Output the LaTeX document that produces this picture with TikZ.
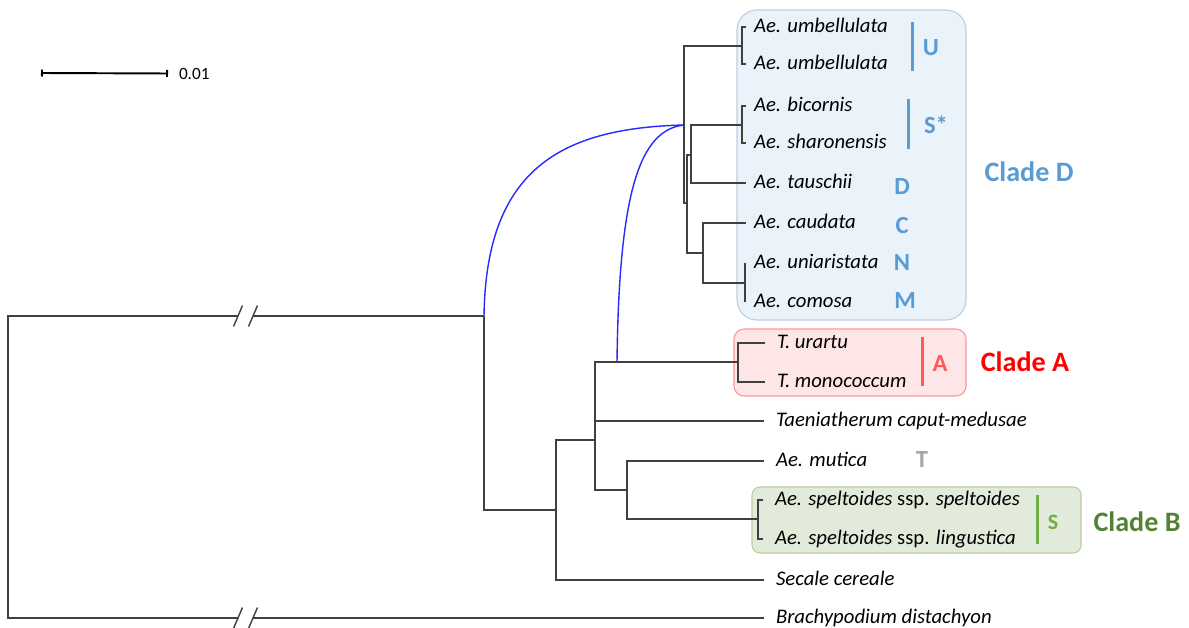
\documentclass[tikz,border=0pt]{standalone}
\usepackage{fontspec}
\setmainfont{Carlito}
\usepackage{tikz}
\usetikzlibrary{arrows.meta}
\usepackage{xcolor}
\definecolor{treegray}{RGB}{64,64,64}
\definecolor{linkblue}{RGB}{40,40,255}
\definecolor{cladeDblue}{RGB}{91,155,213}
\definecolor{cladeDfill}{RGB}{234,242,250}
\definecolor{cladeDline}{RGB}{188,206,228}
\definecolor{cladeAred}{RGB}{255,0,0}
\definecolor{cladeAbar}{RGB}{255,90,90}
\definecolor{cladeAfill}{RGB}{255,230,230}
\definecolor{cladeAline}{RGB}{255,150,150}
\definecolor{cladeBgreen}{RGB}{84,130,53}
\definecolor{cladeBbar}{RGB}{112,173,71}
\definecolor{cladeBfill}{RGB}{226,235,218}
\definecolor{cladeBline}{RGB}{182,205,160}
\definecolor{tgray}{RGB}{166,166,166}

\begin{document}
\begin{tikzpicture}[x=0.02cm,y=-0.02cm,
  br/.style={draw=treegray,line width=0.8pt},
  link/.style={draw=linkblue,line width=0.8pt},
  taxon/.style={anchor=west,inner ysep=0pt,inner xsep=0.24cm,outer sep=0pt,
    font=\fontsize{11.8}{14}\selectfont\itshape,text height=8.3pt,text depth=2.2pt},
  gen/.style={font=\fontsize{14}{17}\selectfont\bfseries,inner sep=0pt},
  clade/.style={font=\fontsize{16}{19}\selectfont\bfseries,inner sep=0pt},
  bar/.style={line width=1.7pt},
  cbox/.style={line width=0.6pt}
]
\useasboundingbox (0,0) rectangle (1189,628);

\path[cbox,draw=cladeDline,fill=cladeDfill,rounded corners=0.4cm] (737,10) rectangle (966,320);
\path[cbox,draw=cladeAline,fill=cladeAfill,rounded corners=0.2cm] (734,329) rectangle (966,396);
\path[cbox,draw=cladeBline,fill=cladeBfill,rounded corners=0.16cm] (752,487) rectangle (1081,553);

\node[taxon,inner xsep=0.16cm] (uu1) at (746,27) {Ae. umbellulata};
\node[taxon,inner xsep=0.16cm] (uu2) at (746,64) {Ae. umbellulata};
\node[taxon,inner xsep=0.16cm] (bic) at (746,106) {Ae. bicornis};
\node[taxon,inner xsep=0.16cm] (sha) at (746,143) {Ae. sharonensis};
\node[taxon,inner xsep=0.16cm] (tau) at (746,183) {Ae. tauschii};
\node[taxon,inner xsep=0.16cm] (cau) at (746,223) {Ae. caudata};
\node[taxon,inner xsep=0.18cm] (uni) at (745,263) {Ae. uniaristata};
\node[taxon,inner xsep=0.18cm] (com) at (745,302) {Ae. comosa};
\node[taxon] (uru) at (765,343) {T. urartu};
\node[taxon] (mon) at (765,382) {T. monococcum};
\node[taxon] (tae) at (764,421) {Taeniatherum caput-medusae};
\node[taxon] (mut) at (764,461) {Ae. mutica};
\node[taxon] (sps) at (763,500) {Ae. speltoides \textup{ssp.} speltoides};
\node[taxon] (spl) at (763,539) {Ae. speltoides \textup{ssp.} lingustica};
\node[taxon] (sec) at (764,580) {Secale cereale};
\node[taxon] (bra) at (764,618) {Brachypodium distachyon};

\draw[bar,cladeDblue] (912,22) -- (912,71);
\draw[bar,cladeDblue] (908,99) -- (908,149);
\draw[bar,cladeAbar] (922,337) -- (922,386);
\draw[bar,cladeBbar] (1037,495) -- (1037,544);

\node[gen,text=cladeDblue] (gU) at (931,48) {U};
\node[gen,text=cladeDblue] (gSs) at (936,125) {S*};
\node[gen,text=cladeDblue] (gD) at (902,187) {D};
\node[gen,text=cladeDblue] (gC) at (902,226) {C};
\node[gen,text=cladeDblue] (gN) at (902,263) {N};
\node[gen,text=cladeDblue] (gM) at (905,301) {M};
\node[gen,text=cladeAbar] (gA) at (940,364) {A};
\node[gen,text=tgray] (gT) at (922,460) {T};
\node[gen,text=cladeBbar,font=\fontsize{12.5}{15}\selectfont\bfseries] (gS) at (1053,522) {S};

\node[clade,text=cladeDblue] (cD) at (1029,172) {Clade D};
\node[clade,text=cladeAred] (cA) at (1025,362) {Clade A};
\node[clade,text=cladeBgreen] (cB) at (1137,522) {Clade B};

\coordinate (nU) at (742,46);
\coordinate (nS) at (742,125);
\coordinate (nNM) at (745,283);
\coordinate (d0) at (684,125);
\coordinate (d1) at (687,203);
\coordinate (d2) at (691,155);
\coordinate (d3) at (703,253);
\coordinate (nA) at (738,362);
\coordinate (nSp) at (758,519);
\coordinate (p1) at (484,316);
\coordinate (p2) at (556,510);
\coordinate (p3) at (595,440);
\coordinate (p4) at (627,490);
\coordinate (pA) at (617,362);
\coordinate (r0) at (8,467);

\draw[br] (uu1.west) -| (nU) |- (uu2.west);
\draw[br] (bic.west) -| (nS) |- (sha.west);
\draw[br] (uni.west) -- (com.west);
\draw[br] (nU) -| (d0) |- (d1);
\draw[br] (d2) -| (d1) |- (d3);
\draw[br] (nS) -| (d2) |- (tau.west);
\draw[br] (cau.west) -| (d3) |- (nNM);

\draw[br] (uru.west) -| (nA) |- (mon.west);
\draw[br] (sps.west) -| (nSp) |- (spl.west);
\draw[br] (nA) -| (p3) |- (p4);
\draw[br,line width=1.4pt] (p3) -- (p3 |- nA);
\draw[br] (p3 |- tae.west) -- (tae.west);
\draw[br] (mut.west) -| (p4) |- (nSp);
\draw[br] (p3) -| (p2) |- (sec.west);
\draw[br] (p1) |- (p2);
\draw[br] (p1) -- (253,316) (238,316) -| (r0) |- (238,618) (253,618) -- (bra.west);
\foreach \yy in {316,618}
  \draw[br] (233.5,\yy+10.5) -- (242.5,\yy-10.5) (248.5,\yy+10.5) -- (257.5,\yy-10.5);

\draw[link] (p1) .. controls (486,170) and (560,128) .. (d0);
\draw[link] (pA) .. controls (619,190) and (640,130) .. (d0);

\coordinate (s0) at (41,73);
\node[anchor=west,inner xsep=0.22cm,inner ysep=0pt,outer sep=0pt,
  font=\fontsize{9.8}{12}\selectfont] (scl) at (168,73.5) {0.01};
\draw[br,draw=black,line width=1.1pt,{Bar[width=0.14cm]}-{Bar[width=0.14cm]}] (s0) -- (scl.west);
\end{tikzpicture}
\end{document}
